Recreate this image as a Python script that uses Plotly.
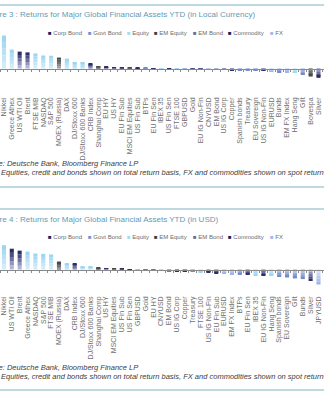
import plotly.graph_objects as go

# ---------------- data ----------------
classes = ["Corp Bond", "Govt Bond", "Equity", "EM Equity", "EM Bond", "Commodity", "FX"]

asset_class = {
    "Nikkei": "Equity", "Greece Athex": "Equity", "US WTI Oil": "Commodity",
    "Brent": "Commodity", "FTSE MIB": "Equity", "NASDAQ": "Equity",
    "S&P 500": "Equity", "MOEX (Russia)": "EM Equity", "DAX": "Equity",
    "DJ/Stoxx 600": "Equity", "DJ/Stoxx 600 Banks": "Equity",
    "CRB Index": "Commodity", "Shanghai Comp": "EM Equity", "EU HY": "Corp Bond",
    "US HY": "Corp Bond", "EU Fin Sub": "Corp Bond", "MSCI EM Equities": "EM Equity",
    "US Fin Sub": "Corp Bond", "BTPs": "Govt Bond", "EU Fin Sen": "Corp Bond",
    "IBEX 35": "Equity", "US Fin Sen": "Corp Bond", "FTSE 100": "Equity",
    "GBPUSD": "FX", "Gold": "Commodity", "EU IG Non-Fin": "Corp Bond",
    "CNYUSD": "FX", "EM Bond": "EM Bond", "US IG Corp": "Corp Bond",
    "Copper": "Commodity", "Spanish bonds": "Govt Bond", "Treasury": "Govt Bond",
    "EU Sovereign": "Govt Bond", "US IG Non-Fin": "Corp Bond", "EURUSD": "FX",
    "Bunds": "Govt Bond", "EM FX Index": "FX", "Hang Seng": "Equity",
    "Gilt": "Govt Bond", "Bovespa": "EM Equity", "Silver": "Commodity",
    "JPYUSD": "FX",
}

# Figure 3: YTD returns in local currency (%)
local_assets = [
    "Nikkei", "Greece Athex", "US WTI Oil", "Brent", "FTSE MIB", "NASDAQ",
    "S&P 500", "MOEX (Russia)", "DAX", "DJ/Stoxx 600", "DJ/Stoxx 600 Banks",
    "CRB Index", "Shanghai Comp", "EU HY", "US HY", "EU Fin Sub",
    "MSCI EM Equities", "US Fin Sub", "BTPs", "EU Fin Sen", "IBEX 35",
    "US Fin Sen", "FTSE 100", "GBPUSD", "Gold", "EU IG Non-Fin", "CNYUSD",
    "EM Bond", "US IG Corp", "Copper", "Spanish bonds", "Treasury",
    "EU Sovereign", "US IG Non-Fin", "EURUSD", "Bunds", "EM FX Index",
    "Hang Seng", "Gilt", "Bovespa", "Silver",
]
local_returns = [
    12.7, 7.3, 6.5, 6.2, 5.8, 5.0,
    4.9, 4.2, 3.8, 2.3, 2.3,
    1.9, 0.8, 0.6, 0.4, 0.3,
    0.3, 0.2, 0.2, 0.1, -0.1,
    -0.1, -0.2, -0.2, -0.3, -0.3, -0.4,
    -0.5, -0.5, -0.6, -0.6, -0.7,
    -0.8, -0.9, -1.3, -1.4, -1.5,
    -1.7, -2.3, -3.1, -3.6,
]

# Figure 4: YTD returns in USD (%)
usd_assets = [
    "Nikkei", "US WTI Oil", "Brent", "Greece Athex", "NASDAQ", "S&P 500",
    "FTSE MIB", "MOEX (Russia)", "DAX", "CRB Index", "DJ/Stoxx 600",
    "DJ/Stoxx 600 Banks", "Shanghai Comp", "US HY", "MSCI EM Equities",
    "US Fin Sub", "US Fin Sen", "GBPUSD", "Gold", "EU HY", "CNYUSD",
    "EM Bond", "US IG Corp", "Copper", "Treasury", "FTSE 100",
    "US IG Non-Fin", "EU Fin Sub", "EURUSD", "EM FX Index", "BTPs",
    "EU Fin Sen", "IBEX 35", "EU IG Non-Fin", "Hang Seng", "Spanish bonds",
    "EU Sovereign", "Gilt", "Bunds", "Silver", "JPYUSD",
]
usd_returns = [
    7.6, 6.5, 5.9, 5.6, 5.0, 4.9,
    4.7, 2.5, 1.9, 1.9, 0.9,
    0.8, 0.5, 0.4, 0.3,
    0.2, -0.1, -0.2, -0.3, -0.35, -0.4,
    -0.5, -0.5, -0.6, -0.7, -0.9,
    -0.9, -1.1, -1.3, -1.5, -1.6,
    -1.7, -1.8, -1.9, -2.0, -2.3,
    -2.5, -2.8, -3.0, -3.6, -4.7,
]

# ---------------- styling ----------------
W, H = 324, 400
FONT = "Liberation Sans, Arial, sans-serif"

# (far-end colour, near-zero colour) of the gradient fill per asset class
class_colors = {
    "Corp Bond": ("#1d1d5c", "#c4c6e2"),
    "Govt Bond": ("#6a82c4", "#d6def2"),
    "Equity": ("#95d3ef", "#d8f0fa"),
    "EM Equity": ("#3f3f3f", "#a6a6a6"),
    "EM Bond": ("#6b6f92", "#cacbd9"),
    "Commodity": ("#1b1d5a", "#c3c5e3"),
    "FX": ("#98b0e4", "#dde5f7"),
}
legend_swatch = {
    "Corp Bond": "#1d1d5c", "Govt Bond": "#7b91cc", "Equity": "#a6dbf1",
    "EM Equity": "#3f3f3f", "EM Bond": "#6b6f92", "Commodity": "#1b1d5a",
    "FX": "#a3b8e8",
}
N_SEG = 5  # steps used to shade each bar


def hex_rgb(h):
    h = h.lstrip("#")
    return tuple(int(h[i:i + 2], 16) for i in (0, 2, 4))


def blend(c1, c2, t):
    a, b = hex_rgb(c1), hex_rgb(c2)
    r = [round(a[i] * t + b[i] * (1 - t)) for i in range(3)]
    return "rgb({},{},{})".format(*r)


def py(px):
    """pixel row (from top) -> paper fraction"""
    return 1 - px / H


def px_x(px):
    return px / W


fig = go.Figure()


def add_bars(assets, values, xa, ya):
    for k in range(N_SEG):
        base = [v * k / N_SEG for v in values]
        seg = [v / N_SEG for v in values]
        t = (k + 0.5) / N_SEG
        cols = [blend(class_colors[asset_class[a]][0], class_colors[asset_class[a]][1], t)
                for a in assets]
        fig.add_trace(go.Bar(
            x=assets, y=seg, base=base, width=0.52,
            marker=dict(color=cols, line=dict(width=0)),
            xaxis=xa, yaxis=ya, showlegend=False, hoverinfo="skip",
        ))


add_bars(local_assets, local_returns, "x", "y")
add_bars(usd_assets, usd_returns, "x2", "y2")

# empty traces so the zero-line axes get drawn
fig.add_trace(go.Scatter(x=[None], y=[None], xaxis="x3", yaxis="y", showlegend=False, hoverinfo="skip"))
fig.add_trace(go.Scatter(x=[None], y=[None], xaxis="x4", yaxis="y2", showlegend=False, hoverinfo="skip"))

# panel geometry (pixel rows)
panels = [
    dict(top=5, bottom_line=187, title_y=14, legend_y=33, dom=(30, 95), zero=68.5,
         scale=2.6, title="Figure 3 : Returns for Major Global Financial Assets YTD (in Local Currency)",
         src_y=163.5, note_y=172.5, n=len(local_assets), cats=local_assets),
    dict(top=209, bottom_line=390, title_y=219, legend_y=237, dom=(234, 294), zero=269.5,
         scale=3.2, title="Figure 4 : Returns for Major Global Financial Assets YTD (in USD)",
         src_y=367.5, note_y=376.5, n=len(usd_assets), cats=usd_assets),
]

axis_font = dict(family=FONT, size=7, color="#6e6e6e")
layout_axes = {}
annotations = []
shapes = []
legend_x = [46, 86, 125, 152, 191, 226, 268]

for i, p in enumerate(panels):
    xi = "" if i == 0 else "2"
    yi = "" if i == 0 else "2"
    zx = "3" if i == 0 else "4"
    d_top, d_bot = p["dom"]
    y_hi = (p["zero"] - d_top) / p["scale"]
    y_lo = -(d_bot - p["zero"]) / p["scale"]
    xr = [-0.5, p["n"] - 0.3]
    layout_axes["xaxis" + xi] = dict(
        domain=[0, 1], anchor="y" + yi, type="category",
        categoryorder="array", categoryarray=p["cats"], range=xr,
        tickmode="linear", dtick=1, tickangle=-90, tickfont=axis_font,
        ticks="", showline=False, showgrid=False, zeroline=False, fixedrange=True,
    )
    layout_axes["yaxis" + yi] = dict(
        domain=[py(d_bot), py(d_top)], anchor="x" + xi, range=[y_lo, y_hi],
        visible=False, fixedrange=True,
    )
    layout_axes["xaxis" + zx] = dict(
        overlaying="x" + xi, anchor="free", position=py(p["zero"]),
        type="linear", range=xr, tickmode="linear", tick0=-0.5, dtick=1,
        ticks="outside", ticklen=2, tickwidth=1, tickcolor="#8a8a8a",
        showline=True, linecolor="#8a8a8a", linewidth=1,
        showticklabels=False, showgrid=False, zeroline=False, fixedrange=True,
    )

    # frame lines
    for yl in (p["top"], p["bottom_line"]):
        shapes.append(dict(type="line", xref="paper", yref="paper", x0=0, x1=1,
                           y0=py(yl), y1=py(yl), line=dict(color="#a9cdd8", width=1.5)))

    annotations.append(dict(
        text=p["title"], x=px_x(-18.5), y=py(p["title_y"]), xref="paper", yref="paper",
        xanchor="left", yanchor="middle", showarrow=False,
        font=dict(family=FONT, size=8, color="#5f9bb4"),
    ))
    for cls, lx in zip(classes, legend_x):
        annotations.append(dict(
            text="<span style='color:{}'>■</span> {}".format(legend_swatch[cls], cls),
            x=px_x(lx), y=py(p["legend_y"]), xref="paper", yref="paper",
            xanchor="left", yanchor="middle", showarrow=False,
            font=dict(family=FONT, size=6, color="#6b6b6b"),
        ))
    annotations.append(dict(
        text="<i>Source: Deutsche Bank, Bloomberg Finance LP</i>",
        x=px_x(-23), y=py(p["src_y"]), xref="paper", yref="paper",
        xanchor="left", yanchor="middle", showarrow=False,
        font=dict(family=FONT, size=7.5, color="#3c3c3c"),
    ))
    annotations.append(dict(
        text="<i>Note: Equities, credit and bonds shown on total return basis, "
             "FX and commodities shown on spot return basis</i>",
        x=px_x(-21), y=py(p["note_y"]), xref="paper", yref="paper",
        xanchor="left", yanchor="middle", showarrow=False,
        font=dict(family=FONT, size=7.5, color="#3c3c3c"),
    ))

fig.update_layout(
    width=W, height=H, margin=dict(l=0, r=0, t=0, b=0),
    paper_bgcolor="white", plot_bgcolor="rgba(0,0,0,0)",
    barmode="overlay", showlegend=False,
    annotations=annotations, shapes=shapes,
    font=dict(family=FONT),
    **layout_axes,
)

fig.write_html("out.html", config={"displayModeBar": False})
